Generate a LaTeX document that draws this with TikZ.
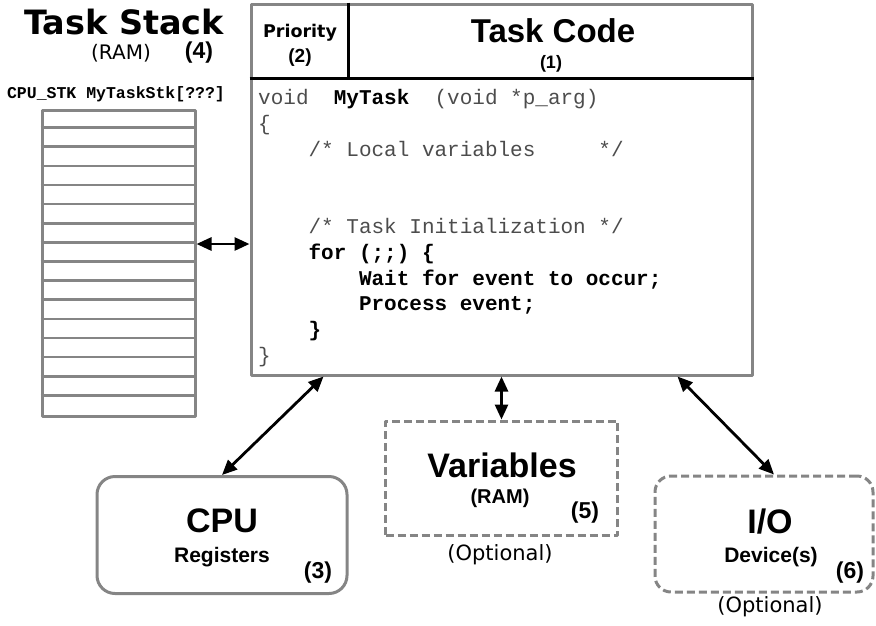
\documentclass[tikz,border=0pt]{standalone}
\usepackage{fontspec}
\setmainfont{Liberation Sans}
\setmonofont{Liberation Mono}
\newfontfamily\verdana{DejaVu Sans}
\usetikzlibrary{arrows.meta,calc}
\definecolor{boxgray}{HTML}{858585}

\begin{document}
\begin{tikzpicture}[line cap=round,line join=round,>={Triangle[length=15pt,width=13pt]},x=1pt,y=-1pt,
  graybox/.style={draw=boxgray,line width=3pt,line cap=butt,inner sep=0pt},
  optbox/.style={graybox,dash pattern=on 8pt off 4pt},
  codeline/.style={anchor=west,inner sep=0pt,font=\ttfamily\fontsize{21}{21}\selectfont,text height=15pt,text depth=5pt,text=black!70},
  big/.style={font=\bfseries\fontsize{34}{34}\selectfont},
  small/.style={font=\bfseries\fontsize{21}{21}\selectfont},
  num/.style={font=\bfseries\fontsize{23}{23}\selectfont},
  opt/.style={font=\verdana\fontsize{21}{21}\selectfont},
  link/.style={<->,line width=2.8pt}]
\useasboundingbox (0,0) rectangle (876,625);

% task code box
\node [graybox,minimum width=501pt,minimum height=371pt] (code) at (501.5,189.5) {};
\draw [line width=3pt,line cap=butt] ($(code.north west)+(0,76)$) -- ($(code.north east)+(0,76)$);
\draw [line width=3pt,line cap=butt] ($(code.north west)+(99,0)$) -- ++(0,76);
\node [font=\verdana\bfseries\fontsize{17.5}{17.5}\selectfont] (prio) at (300,33) {Priority};
\node [font=\bfseries\fontsize{19}{19}\selectfont] (prionum) at (300,58) {(2)};
\node [font=\bfseries\fontsize{33}{33}\selectfont] (codetitle) at (553,31) {Task Code};
\node [font=\bfseries\fontsize{18}{18}\selectfont] (codenum) at (551,64) {(1)};

% code lines
\node [codeline] (l0) at (258,99) {void~~{\bfseries\color{black}MyTask}~~(void~*p\_arg)};
\node [codeline] (l1) at (258,125) {\{};
\node [codeline] (l2) at (258,151) {~~~~/*~Local~variables~~~~~*/};
\node [codeline] (l5) at (258,228) {~~~~/*~Task~Initialization~*/};
\node [codeline,text=black] (l6) at (258,254) {\bfseries~~~~for~(;;)~\{};
\node [codeline,text=black] (l7) at (258,280) {\bfseries~~~~~~~~Wait~for~event~to~occur;};
\node [codeline,text=black] (l8) at (258,305) {\bfseries~~~~~~~~Process~event;};
\node [codeline,text=black] (l9) at (258,331) {\bfseries~~~~\}};
\node [codeline] (l10) at (258,357) {\}};

% task stack
\node [font=\verdana\bfseries\fontsize{33.5}{33.5}\selectfont] (stacktitle) at (124,22) {Task Stack};
\node [font=\verdana\fontsize{20}{20}\selectfont] (stackram) at (121,53) {(RAM)};
\node [num] (stacknum) at (199,53) {(4)};
\node [font=\ttfamily\bfseries\fontsize{16.5}{16.5}\selectfont] (stackdecl) at (116,94) {CPU\_STK MyTaskStk[???]};
\node [graybox,minimum width=153pt,minimum height=306pt] (stack) at (118.5,263) {};
\foreach \i in {1,...,15}
  \draw [boxgray,line width=2.6pt,line cap=butt] ($(stack.north west)+(0,\i*19.125)$) -- ++(153,0);
\coordinate (stackport) at ([yshift=19pt]stack.east);
\draw [link] (stackport) -- (stackport -| code.west);

% cpu
\node [graybox,rounded corners=18pt,minimum width=250pt,minimum height=117pt] (cpu) at (222,535) {};
\node [big] (cputitle) at (222,521) {CPU};
\node [small] (cpuregs) at (222,557) {Registers};
\node [num] (cpunum) at (318,573) {(3)};

% variables
\node [optbox,minimum width=232pt,minimum height=114pt] (vars) at (501.5,478) {};
\node [big] (varstitle) at (502,465) {Variables};
\node [font=\bfseries\fontsize{20}{20}\selectfont] (varsram) at (500,498) {(RAM)};
\node [num] (varsnum) at (585,513) {(5)};
\node [opt] (varsopt) at (500,555) {(Optional)};

% i/o
\node [optbox,rounded corners=16pt,minimum width=218pt,minimum height=116pt] (io) at (764,534) {};
\node [big] (iotitle) at (770,522) {I/O};
\node [small] (iodev) at (771,557) {Device(s)};
\node [num] (ionum) at (850,573) {(6)};
\node [opt] (ioopt) at (770,607) {(Optional)};

% links
\draw [link] ($(code.south west)+(74,0)$) -- (cpu.north);
\draw [link] (vars.north) -- (vars.north |- code.south);
\draw [link] ($(code.south east)+(-76,0)$) -- ([xshift=10pt]io.north);
\end{tikzpicture}
\end{document}
